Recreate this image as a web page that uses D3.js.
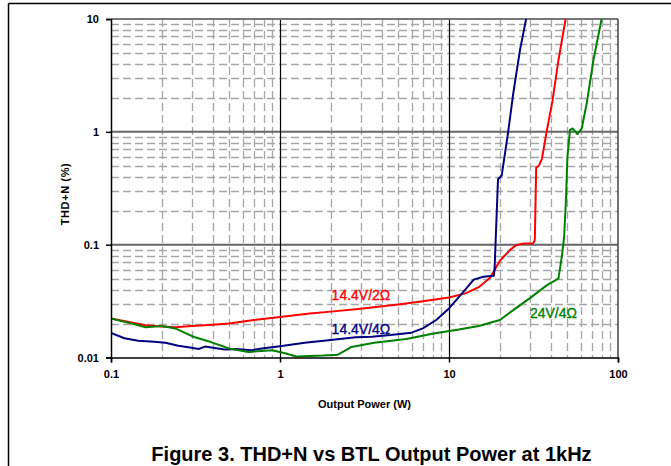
<!DOCTYPE html>
<html>
<head>
<meta charset="utf-8">
<script src="https://cdn.jsdelivr.net/npm/d3@7"></script>
<style>
  body { margin: 0; background: #fff; }
  svg { display: block; font-family: Arial, "Liberation Sans", sans-serif; }
</style>
</head>
<body>
<div id="chart"></div>
<script>
// THD+N (%) vs output power (W)
const red14v2 = [
  [0.1, 0.0222], [0.13, 0.0205], [0.16, 0.0193], [0.2, 0.0188], [0.24, 0.0185],
  [0.3, 0.019], [0.4, 0.0195], [0.5, 0.020], [0.7, 0.0215], [1, 0.0229],
  [1.5, 0.0245], [2, 0.0255], [3, 0.027], [5, 0.0295], [7, 0.0315], [10, 0.034],
  [12.5, 0.037], [15, 0.042], [17.5, 0.051], [20, 0.072], [23, 0.09], [25, 0.099],
  [27, 0.102], [31.5, 0.103], [32.2, 0.11], [32.8, 0.48], [34, 0.50], [35.5, 0.58],
  [37.8, 1.0], [41, 1.9], [44.4, 4.3], [49, 10]
];

const blue14v4 = [
  [0.1, 0.0165], [0.12, 0.0148], [0.145, 0.0141], [0.18, 0.0138], [0.21, 0.0135],
  [0.25, 0.0127], [0.3, 0.0122], [0.33, 0.0119], [0.36, 0.0125], [0.42, 0.0121],
  [0.47, 0.0118], [0.55, 0.0119], [0.68, 0.0116], [0.8, 0.0121], [1, 0.0126],
  [1.4, 0.0135], [2, 0.0143], [2.8, 0.0151], [3.5, 0.0153], [4.5, 0.0158],
  [6, 0.0166], [7, 0.0181], [8.4, 0.0215], [10, 0.0272], [12.2, 0.0383],
  [14, 0.049], [16, 0.052], [18.4, 0.053], [18.6, 0.06], [19.5, 0.38],
  [20.5, 0.41], [22.4, 1.0], [24, 2.19], [26.3, 5.3], [28.6, 10]
];

const green24v4 = [
  [0.1, 0.0222], [0.12, 0.0207], [0.14, 0.0196], [0.16, 0.0185], [0.2, 0.019],
  [0.24, 0.0181], [0.27, 0.0167], [0.31, 0.0152], [0.39, 0.0137], [0.5, 0.012],
  [0.65, 0.0112], [0.9, 0.0116], [1.07, 0.0109], [1.25, 0.0102], [1.5, 0.0103],
  [1.8, 0.0104], [2.2, 0.0106], [2.5, 0.0118], [2.65, 0.0124], [3.6, 0.0135],
  [5.6, 0.0146], [8.1, 0.0163], [11, 0.0175], [15, 0.019], [20, 0.0215],
  [24, 0.0263], [30, 0.0334], [38, 0.0438], [44.4, 0.050], [46.5, 0.078],
  [48, 0.117], [49.2, 0.25], [50.2, 0.6], [52, 1.04], [54, 1.07], [57.5, 0.955],
  [61, 1.07], [65.3, 1.79], [71.5, 4.3], [80, 10]
];

const seriesNames = ['14.4V/2\u03A9', '14.4V/4\u03A9', '24V/4\u03A9'];
const xTicks = [0.1, 1, 10, 100];
const yTicks = [0.01, 0.1, 1, 10];
const xTickLabels = ['0.1', '1', '10', '100'];
const yTickLabels = ['0.01', '0.1', '1', '10'];

const config = {
  width: 671,
  height: 466,
  margin: { top: 19, right: 53, bottom: 108.5, left: 111 }
};

const svg = d3.select('#chart').append('svg')
  .attr('width', config.width)
  .attr('height', config.height);

const innerW = config.width - config.margin.left - config.margin.right;
const innerH = config.height - config.margin.top - config.margin.bottom;

// page frame (top + left edge of the figure box)
svg.append('line').attr('x1', 8.5).attr('x2', 671).attr('y1', 3.5).attr('y2', 3.5)
  .attr('stroke', '#000').attr('stroke-width', 1.5);
svg.append('line').attr('x1', 8.5).attr('x2', 8.5).attr('y1', 3.5).attr('y2', 466)
  .attr('stroke', '#000').attr('stroke-width', 1.5);

const chart = svg.append('g')
  .attr('transform', `translate(${config.margin.left},${config.margin.top})`);

const x = d3.scaleLog().domain([0.1, 100]).range([0, innerW]);
const y = d3.scaleLog().domain([0.01, 10]).range([innerH, 0]);

// minor grid: 2..9 inside each decade
const minor = decades => decades.flatMap(d => d3.range(2, 10).map(k => k * d));
const xMinor = minor([0.1, 1, 10]);
const yMinor = minor([0.01, 0.1, 1]);

chart.append('g').selectAll('line')
  .data(yMinor).join('line')
  .attr('x1', 0).attr('x2', innerW)
  .attr('y1', d => Math.round(y(d)) + 0.5).attr('y2', d => Math.round(y(d)) + 0.5)
  .attr('stroke', '#a6a6a6').attr('stroke-width', 1.3)
  .attr('stroke-dasharray', '8,4');

chart.append('g').selectAll('line')
  .data(xMinor).join('line')
  .attr('y1', 0).attr('y2', innerH)
  .attr('x1', d => Math.round(x(d)) + 0.5).attr('x2', d => Math.round(x(d)) + 0.5)
  .attr('stroke', '#a6a6a6').attr('stroke-width', 1.3)
  .attr('stroke-dasharray', '8,4');

// major grid
chart.append('g').selectAll('line')
  .data([0.1, 1]).join('line')
  .attr('x1', 0).attr('x2', innerW)
  .attr('y1', d => y(d)).attr('y2', d => y(d))
  .attr('stroke', '#666').attr('stroke-width', 2);

chart.append('g').selectAll('line')
  .data([1, 10]).join('line')
  .attr('y1', 0).attr('y2', innerH)
  .attr('x1', d => Math.round(x(d)) + 0.5).attr('x2', d => Math.round(x(d)) + 0.5)
  .attr('stroke', '#000').attr('stroke-width', 1.2);

// plot border
chart.append('line').attr('x1', 0).attr('x2', innerW).attr('y1', 0).attr('y2', 0)
  .attr('stroke', '#777').attr('stroke-width', 2);
chart.append('line').attr('x1', innerW).attr('x2', innerW).attr('y1', 0).attr('y2', innerH)
  .attr('stroke', '#444').attr('stroke-width', 1.5);

// curves
const line = d3.line().x(d => x(d[0])).y(d => y(d[1]));
const series = [
  { name: seriesNames[0], color: '#ff0000', values: red14v2, label: [2.02, 0.0323] },
  { name: seriesNames[1], color: '#000080', values: blue14v4, label: [2.02, 0.0161] },
  { name: seriesNames[2], color: '#008000', values: green24v4, label: [30.1, 0.0223] }
];

svg.append('clipPath').attr('id', 'plotclip')
  .append('rect').attr('width', innerW).attr('height', innerH + 2).attr('y', -1);

chart.append('g').attr('clip-path', 'url(#plotclip)')
  .selectAll('path')
  .data(series).join('path')
  .attr('d', d => line(d.values))
  .attr('fill', 'none')
  .attr('stroke', d => d.color)
  .attr('stroke-width', 2)
  .attr('stroke-linejoin', 'round');

chart.selectAll('.series-label')
  .data(series).join('text')
  .attr('class', 'series-label')
  .attr('x', d => x(d.label[0]))
  .attr('y', d => y(d.label[1]))
  .attr('fill', d => d.color)
  .attr('stroke', d => d.color)
  .attr('stroke-width', 0.35)
  .attr('font-size', 14)
  .text(d => d.name);

// axes
const xAxis = d3.axisBottom(x).tickValues(xTicks)
  .tickFormat((d, i) => xTickLabels[i]).tickSize(5).tickPadding(8);
const yAxis = d3.axisLeft(y).tickValues(yTicks)
  .tickFormat((d, i) => yTickLabels[i]).tickSize(5).tickPadding(7);

const xAxisG = chart.append('g')
  .attr('transform', `translate(0,${innerH})`)
  .call(xAxis);
const yAxisG = chart.append('g').call(yAxis);

[xAxisG, yAxisG].forEach(g => {
  g.select('.domain').attr('stroke', '#000').attr('stroke-width', 1.5);
  g.selectAll('.tick line').attr('stroke', '#000').attr('stroke-width', 1.5);
  g.selectAll('.tick text')
    .attr('font-family', 'Arial, "Liberation Sans", sans-serif')
    .attr('font-size', 11).attr('font-weight', 'bold').attr('fill', '#000');
});

// axis titles
chart.append('text')
  .attr('x', innerW / 2)
  .attr('y', innerH + 50)
  .attr('text-anchor', 'middle')
  .attr('font-size', 11).attr('font-weight', 'bold')
  .text('Output Power (W)');

chart.append('text')
  .attr('transform', `translate(${64.5 - config.margin.left + 4},${194 - config.margin.top}) rotate(-90)`)
  .attr('text-anchor', 'middle')
  .attr('font-size', 11).attr('font-weight', 'bold')
  .attr('letter-spacing', 0.6)
  .text('THD+N (%)');

// figure caption
svg.append('text')
  .attr('x', 371.5)
  .attr('y', 461)
  .attr('text-anchor', 'middle')
  .attr('font-size', 20).attr('font-weight', 'bold')
  .text('Figure 3. THD+N vs BTL Output Power at 1kHz');
</script>
</body>
</html>
